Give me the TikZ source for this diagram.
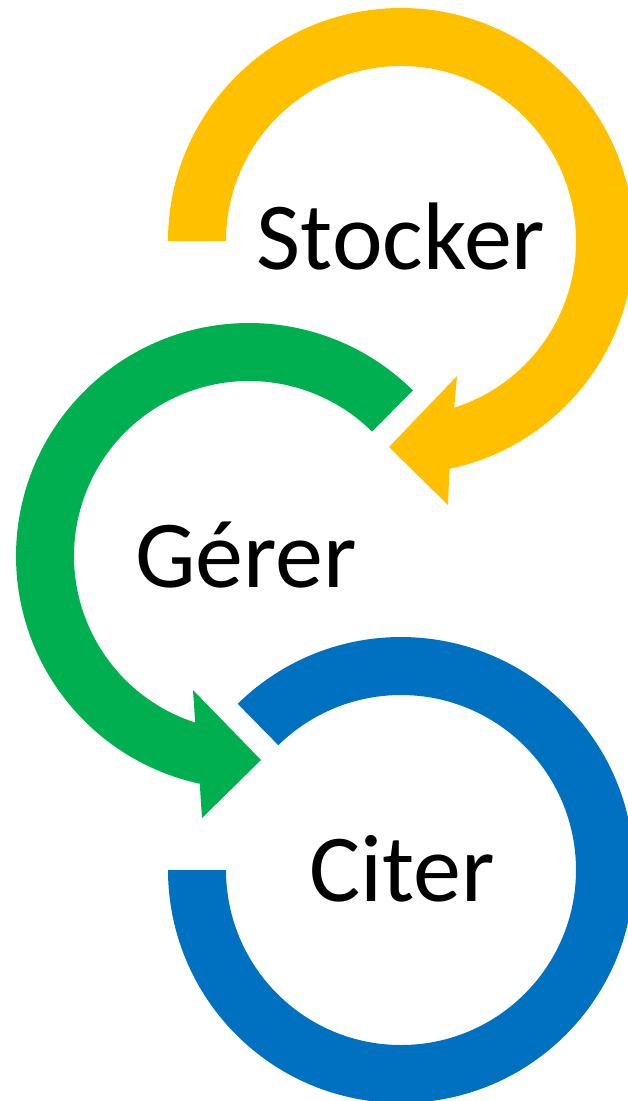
\documentclass[tikz,border=0pt]{standalone}
\usepackage{fontspec}
\setmainfont{Carlito}
\usetikzlibrary{calc}
\definecolor{cyellow}{HTML}{FFC000}
\definecolor{cgreen}{HTML}{00B050}
\definecolor{cblue}{HTML}{0070C0}
\begin{document}
\begin{tikzpicture}[x=1pt,y=1pt,
  label/.style={inner sep=0pt, anchor=base, font=\fontsize{96}{110}\selectfont}]
\useasboundingbox (0,0) rectangle (627,-1101);
\coordinate (cy) at (401,-241);
\coordinate (cg) at (249,-556);
\coordinate (cb) at (401,-870);
% yellow
\fill[cyellow] ($(cy)+(180:233)$) arc[start angle=180, end angle=-78, radius=233]
  -- (448,-505) -- (389,-447) -- (457,-376) -- ($(cy)+(-72.3:175)$)
  arc[start angle=-72.3, end angle=180, radius=175] -- cycle;
% green
\fill[cgreen] ($(cg)+(45.3:233)$) arc[start angle=45.3, end angle=257.8, radius=233]
  -- (202,-818) -- (261,-760) -- (193,-690) -- ($(cg)+(252.1:175)$)
  arc[start angle=252.1, end angle=45.3, radius=175] -- cycle;
% blue
\fill[cblue] ($(cb)+(134.5:233)$) arc[start angle=134.5, end angle=-180, radius=233]
  -- ($(cb)+(180:175)$) arc[start angle=-180, end angle=134.5, radius=175] -- cycle;
\node[label] (stocker) at (401,-269) {Stocker};
\node[label] (gerer) at (246,-587) {Gérer};
\node[label] (citer) at (402,-901) {Citer};
\end{tikzpicture}
\end{document}
